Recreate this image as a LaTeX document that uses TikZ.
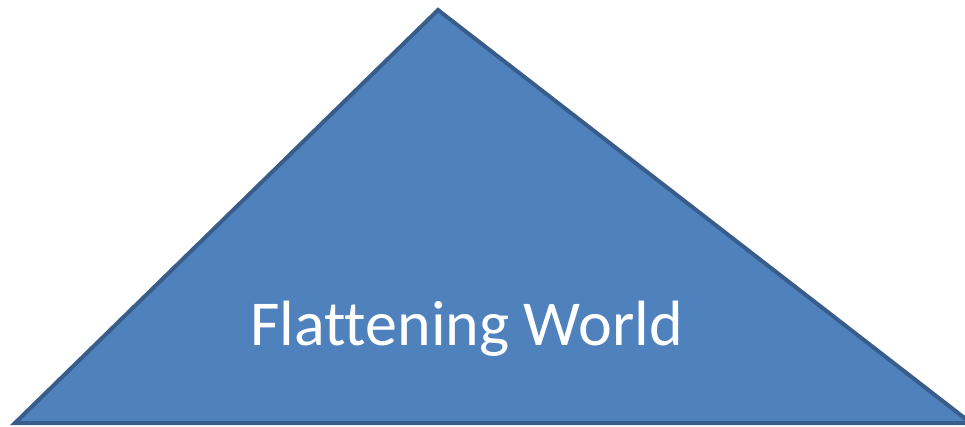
\documentclass[tikz,border=0pt]{standalone}
\usepackage{fontspec}
\setmainfont[Ligatures=NoCommon]{Carlito}
\definecolor{trifill}{HTML}{4F81BD}
\definecolor{triedge}{HTML}{385D8A}
\tikzset{tri/.style={fill=trifill,draw=triedge,line width=4pt,line join=miter},
  lbl/.style={text=white,font=\fontsize{64pt}{77pt}\selectfont,anchor=base,inner sep=0pt}}
\begin{document}
\begin{tikzpicture}[x=1pt,y=1pt]
\useasboundingbox (0,0) rectangle (965,426);
\clip (0,0) rectangle (965,426);
\coordinate (apex) at (438,416);
\coordinate (bl) at (15,3);
\coordinate (br) at (971,3);
\draw[tri] (apex) -- (br) -- (bl) -- cycle;
\node[lbl] (title) at (466.5,81) {Flattening World};
\end{tikzpicture}
\end{document}
